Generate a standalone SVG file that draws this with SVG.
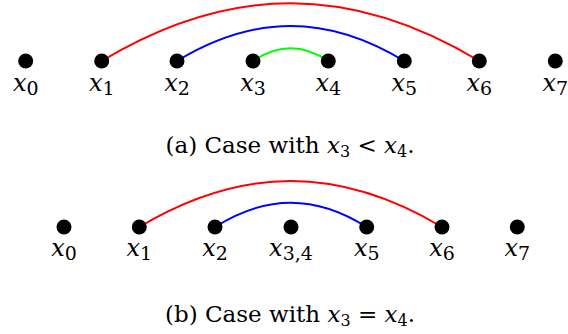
<svg xmlns="http://www.w3.org/2000/svg" width="568" height="334" viewBox="0 0 568 334">
<style>
.arc{fill:none;stroke-width:2}
.dot{fill:#000}
.lbl{font-family:"DejaVu Serif","Liberation Serif",serif;font-size:24px;text-anchor:middle;fill:#000}
.v{font-style:italic}
.s{font-size:19px;font-style:normal}
.cap{font-family:"DejaVu Serif","Liberation Serif",serif;font-size:23px;text-anchor:middle;fill:#000}
.cs{font-size:16px}
</style>
<g id="connectors">
<path class="arc" stroke="#ff0000" d="M101.7 61 C229.7 -16 351.3 -16 479.3 61"/>
<path class="arc" stroke="#0000ff" d="M177 61 C254 14.3 327.3 14.3 404.3 61"/>
<path class="arc" stroke="#00ff00" d="M253 61 C278.5 43.7 302.8 43.7 328.3 61"/>
<path class="arc" stroke="#ff0000" d="M139.3 227 C241.9 165.7 339.4 165.7 442 227"/>
<path class="arc" stroke="#0000ff" d="M215 227 C266.4 194.6 315.3 194.6 366.7 227"/>
</g>
<g id="a-x0"><circle class="dot" cx="25.7" cy="61" r="7.5"/><text class="lbl" x="25.7" y="91"><tspan class="v">x</tspan><tspan class="s" dy="4">0</tspan></text></g>
<g id="a-x1"><circle class="dot" cx="101.7" cy="61" r="7.5"/><text class="lbl" x="101.7" y="91"><tspan class="v">x</tspan><tspan class="s" dy="4">1</tspan></text></g>
<g id="a-x2"><circle class="dot" cx="177" cy="61" r="7.5"/><text class="lbl" x="177" y="91"><tspan class="v">x</tspan><tspan class="s" dy="4">2</tspan></text></g>
<g id="a-x3"><circle class="dot" cx="253" cy="61" r="7.5"/><text class="lbl" x="253" y="91"><tspan class="v">x</tspan><tspan class="s" dy="4">3</tspan></text></g>
<g id="a-x4"><circle class="dot" cx="328.3" cy="61" r="7.5"/><text class="lbl" x="328.3" y="91"><tspan class="v">x</tspan><tspan class="s" dy="4">4</tspan></text></g>
<g id="a-x5"><circle class="dot" cx="404.3" cy="61" r="7.5"/><text class="lbl" x="404.3" y="91"><tspan class="v">x</tspan><tspan class="s" dy="4">5</tspan></text></g>
<g id="a-x6"><circle class="dot" cx="479.3" cy="61" r="7.5"/><text class="lbl" x="479.3" y="91"><tspan class="v">x</tspan><tspan class="s" dy="4">6</tspan></text></g>
<g id="a-x7"><circle class="dot" cx="555.3" cy="61" r="7.5"/><text class="lbl" x="555.3" y="91"><tspan class="v">x</tspan><tspan class="s" dy="4">7</tspan></text></g>
<g id="caption-a"><text class="cap" x="290" y="153">(a) Case with <tspan class="v">x</tspan><tspan class="cs" dy="4">3</tspan><tspan dy="-4"> &lt; </tspan><tspan class="v">x</tspan><tspan class="cs" dy="4">4</tspan><tspan dy="-4">.</tspan></text></g>
<g id="b-x0"><circle class="dot" cx="64" cy="227" r="7.5"/><text class="lbl" x="64" y="256"><tspan class="v">x</tspan><tspan class="s" dy="4">0</tspan></text></g>
<g id="b-x1"><circle class="dot" cx="139.3" cy="227" r="7.5"/><text class="lbl" x="139.3" y="256"><tspan class="v">x</tspan><tspan class="s" dy="4">1</tspan></text></g>
<g id="b-x2"><circle class="dot" cx="215" cy="227" r="7.5"/><text class="lbl" x="215" y="256"><tspan class="v">x</tspan><tspan class="s" dy="4">2</tspan></text></g>
<g id="b-x34"><circle class="dot" cx="291" cy="227" r="7.5"/><text class="lbl" x="291" y="256"><tspan class="v">x</tspan><tspan class="s" dy="4">3,4</tspan></text></g>
<g id="b-x5"><circle class="dot" cx="366.7" cy="227" r="7.5"/><text class="lbl" x="366.7" y="256"><tspan class="v">x</tspan><tspan class="s" dy="4">5</tspan></text></g>
<g id="b-x6"><circle class="dot" cx="442" cy="227" r="7.5"/><text class="lbl" x="442" y="256"><tspan class="v">x</tspan><tspan class="s" dy="4">6</tspan></text></g>
<g id="b-x7"><circle class="dot" cx="517.3" cy="227" r="7.5"/><text class="lbl" x="517.3" y="256"><tspan class="v">x</tspan><tspan class="s" dy="4">7</tspan></text></g>
<g id="caption-b"><text class="cap" x="290" y="322">(b) Case with <tspan class="v">x</tspan><tspan class="cs" dy="4">3</tspan><tspan dy="-4"> = </tspan><tspan class="v">x</tspan><tspan class="cs" dy="4">4</tspan><tspan dy="-4">.</tspan></text></g>
</svg>
